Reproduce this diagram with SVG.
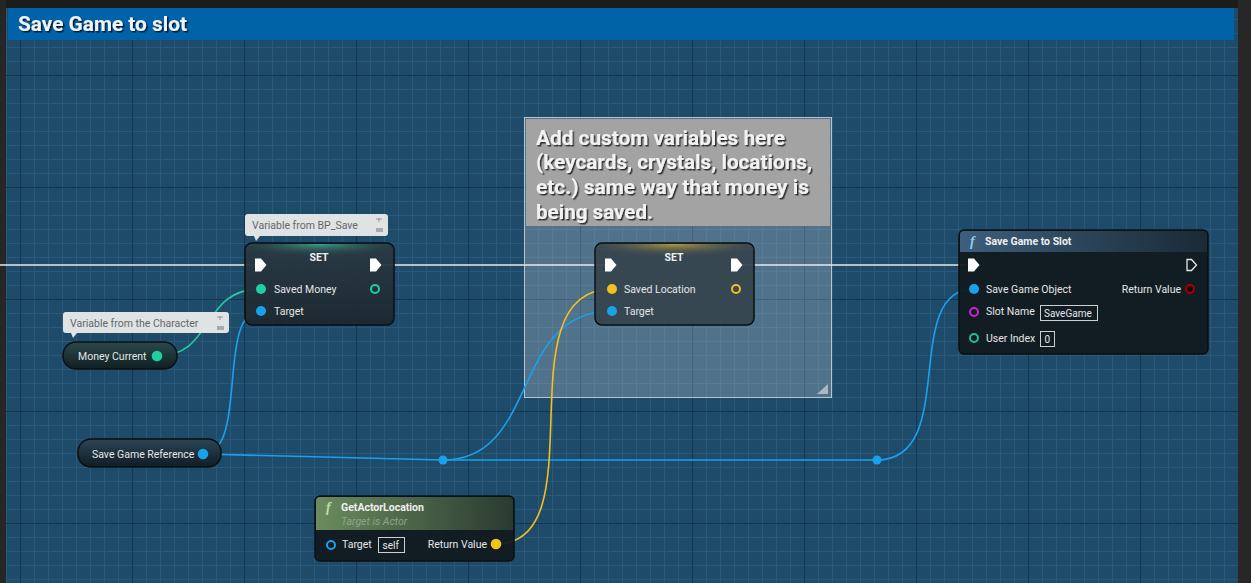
<svg xmlns="http://www.w3.org/2000/svg" width="1251" height="583" viewBox="0 0 1251 583">
<defs>
<pattern id="minor" x="6" y="5" width="14" height="14" patternUnits="userSpaceOnUse">
<path d="M0 0.5H14M0.5 0V14" stroke="#2b5878" stroke-width="1" fill="none"/>
</pattern>
<pattern id="major" x="20" y="75" width="112" height="112" patternUnits="userSpaceOnUse">
<path d="M0 0.5H112M0.5 0V112" stroke="#143650" stroke-width="1.2" fill="none"/>
</pattern>
<linearGradient id="bodyGrad" x1="0" y1="0" x2="0" y2="1">
<stop offset="0" stop-color="#2a3a44"/>
<stop offset="1" stop-color="#1c272e"/>
</linearGradient>
<radialGradient id="tealGlow" cx="0.5" cy="0" r="0.6">
<stop offset="0" stop-color="#3aa08a"/>
<stop offset="1" stop-color="#2a3a44" stop-opacity="0"/>
</radialGradient>
<radialGradient id="yellowGlow" cx="0.5" cy="0" r="0.6">
<stop offset="0" stop-color="#b59a3a"/>
<stop offset="1" stop-color="#3a4852" stop-opacity="0"/>
</radialGradient>
<linearGradient id="pillGrad" x1="0" y1="0" x2="0" y2="1">
<stop offset="0" stop-color="#2c4a4c"/>
<stop offset="1" stop-color="#0f1e22"/>
</linearGradient>
<linearGradient id="pillBlue" x1="0" y1="0" x2="0" y2="1">
<stop offset="0" stop-color="#2c4656"/>
<stop offset="1" stop-color="#0f1c24"/>
</linearGradient>
<linearGradient id="fnHead" x1="0" y1="0" x2="1" y2="0">
<stop offset="0" stop-color="#3d5f7c"/>
<stop offset="1" stop-color="#1a2a36"/>
</linearGradient>
<linearGradient id="greenHead" x1="0" y1="0" x2="1" y2="0">
<stop offset="0" stop-color="#6b8c5e"/>
<stop offset="1" stop-color="#2a3a30"/>
</linearGradient>
<filter id="shadow" x="-10%" y="-10%" width="130%" height="130%">
<feDropShadow dx="1.5" dy="1.5" stdDeviation="0.3" flood-color="#000" flood-opacity="0.7"/>
</filter>
</defs>
<style>
.t{font-family:Roboto,"Liberation Sans",sans-serif;font-size:10.5px;fill:#e6e6e6}
.bt{font-family:Roboto,"Liberation Sans",sans-serif;font-size:10px;fill:#e6e6e6}
.c{font-family:Roboto,"Liberation Sans",sans-serif;font-size:10.5px;fill:#666}
.h{font-family:Roboto,"Liberation Sans",sans-serif;font-size:10.5px;font-weight:bold;fill:#f0f0f0}
.big{font-family:Roboto,"Liberation Sans",sans-serif;font-weight:bold;fill:#f2f2f2}
.node{stroke:#0a0f12;stroke-width:1.5}
.exec{fill:#ffffff}
.wire{fill:none;stroke-width:1.6}
.box{fill:none;stroke:#cfcfcf;stroke-width:1}
.bubble{fill:#dfe3e4}
</style>
<!-- background -->
<rect width="1251" height="583" fill="#1c1c1c"/>
<rect x="6" y="8" width="1232" height="575" fill="#1f4b6a"/>
<rect x="6" y="8" width="1232" height="575" fill="url(#minor)"/>
<rect x="6" y="8" width="1232" height="575" fill="url(#major)"/>
<rect x="1238" y="0" width="13" height="583" fill="#272727"/>
<rect x="0" y="0" width="6" height="583" fill="#262626"/>
<g id="frame-header">
<rect x="8" y="8" width="1226" height="32" fill="#0063a8"/>
<text x="18" y="31" class="big" font-size="20" textLength="169" lengthAdjust="spacingAndGlyphs" filter="url(#shadow)">Save Game to slot</text>
</g>
<!-- comment box -->
<g id="comment-custom">
<rect x="524.5" y="117.5" width="307" height="280" fill="#ffffff" fill-opacity="0.22" stroke="#b9c4cc" stroke-width="1"/>
<rect x="526" y="119" width="304" height="107" fill="#a3a3a3"/>
<g class="big" font-size="21" filter="url(#shadow)">
<text x="536" y="145" textLength="249" lengthAdjust="spacingAndGlyphs">Add custom variables here</text>
<text x="536" y="169" textLength="276" lengthAdjust="spacingAndGlyphs">(keycards, crystals, locations,</text>
<text x="536" y="194" textLength="273" lengthAdjust="spacingAndGlyphs">etc.) same way that money is</text>
<text x="536" y="219" textLength="117" lengthAdjust="spacingAndGlyphs">being saved.</text>
</g>
<path d="M828 384L817 394H828Z" fill="#a9b8c4"/>
</g>
<!-- connectors -->
<g id="connectors">
<path class="wire" stroke="#e8e8e8" stroke-width="2" d="M0 265H255"/>
<path class="wire" stroke="#e8e8e8" stroke-width="2" d="M382 265H605"/>
<path class="wire" stroke="#e8e8e8" stroke-width="2" d="M742 265H967"/>
<path class="wire" stroke="#1fcf9e" d="M157 356C215 356 200 289 261 289"/>
<path class="wire" stroke="#18a2ec" d="M202 454C250 454 215 311 261 311"/>
<path class="wire" stroke="#18a2ec" d="M202 454L443 460H877"/>
<path class="wire" stroke="#18a2ec" d="M443 460C540 460 510 311 612 311"/>
<path class="wire" stroke="#18a2ec" d="M877 460C960 460 900 289 974 289"/>
<path class="wire" stroke="#f2c11d" d="M496 544C600 544 500 289 612 289"/>
<circle cx="443" cy="460" r="4.5" fill="#18a2ec"/>
<circle cx="877" cy="460" r="4.5" fill="#18a2ec"/>
</g>
<!-- comment bubble BP_Save -->
<g id="bubble-bpsave">
<rect x="245" y="214" width="143" height="22" rx="3" class="bubble"/>
<path d="M254 236L256 241L260 236Z" class="bubble"/>
<text x="252" y="229" class="c">Variable from BP_Save</text>
<path d="M376 219h6M379 218v4" stroke="#999" stroke-width="1"/>
<rect x="376" y="228" width="7" height="4" fill="#aaa"/>
</g>
<!-- SET 1 -->
<g id="set-money">
<rect x="245" y="243" width="149" height="82" rx="7" fill="url(#bodyGrad)" fill-opacity="0.95" class="node"/>
<rect x="246" y="244" width="147" height="22" rx="6" fill="url(#tealGlow)"/>
<text x="319" y="261" class="h" text-anchor="middle">SET</text>
<path class="exec" d="M255 258.5h6l5.5 6.5l-5.5 6.5h-6z"/>
<path class="exec" d="M370 258.5h6l5.5 6.5l-5.5 6.5h-6z"/>
<circle cx="261" cy="289" r="5" fill="#1fcf9e"/>
<text x="274" y="293" class="t">Saved Money</text>
<circle cx="375" cy="289" r="4" fill="none" stroke="#1fcf9e" stroke-width="2"/>
<circle cx="261" cy="311" r="5" fill="#18a2ec"/>
<text x="274" y="315" class="t">Target</text>
</g>
<!-- bubble character -->
<g id="bubble-character">
<rect x="63" y="312" width="166" height="21" rx="3" class="bubble"/>
<path d="M71 333L73 338L77 333Z" class="bubble"/>
<text x="70" y="327" class="c">Variable from the Character</text>
<path d="M217 317h6M220 316v4" stroke="#999" stroke-width="1"/>
<rect x="217" y="326" width="7" height="4" fill="#aaa"/>
</g>
<!-- Money Current -->
<g id="money-current">
<rect x="63" y="342" width="114" height="27" rx="13" fill="url(#pillGrad)" class="node"/>
<text x="78" y="360" class="t">Money Current</text>
<circle cx="157" cy="356" r="5.3" fill="#1fcf9e"/>
</g>
<!-- Save Game Reference -->
<g id="save-game-reference">
<rect x="78" y="439" width="143" height="28" rx="13" fill="url(#pillBlue)" class="node"/>
<text x="92" y="458" class="t">Save Game Reference</text>
<circle cx="203" cy="454" r="5.3" fill="#18a2ec"/>
</g>
<!-- SET 2 -->
<g id="set-location">
<rect x="595" y="243" width="159" height="82" rx="7" fill="#36454f" fill-opacity="0.95" class="node"/>
<rect x="596" y="244" width="157" height="22" rx="6" fill="url(#yellowGlow)"/>
<text x="674" y="261" class="h" text-anchor="middle">SET</text>
<path class="exec" d="M605 258.5h6l5.5 6.5l-5.5 6.5h-6z"/>
<path class="exec" d="M731 258.5h6l5.5 6.5l-5.5 6.5h-6z"/>
<circle cx="612" cy="289" r="5" fill="#f2c11d"/>
<text x="624" y="293" class="t">Saved Location</text>
<circle cx="736" cy="289" r="4" fill="none" stroke="#f2c11d" stroke-width="2"/>
<circle cx="612" cy="311" r="5" fill="#18a2ec"/>
<text x="624" y="315" class="t">Target</text>
</g>
<!-- Save Game to Slot -->
<g id="save-game-to-slot">
<rect x="959" y="230" width="249" height="124" rx="5" fill="#111a20" fill-opacity="0.95" class="node"/>
<path d="M960 235a4 4 0 0 1 4-4h239a4 4 0 0 1 4 4v17h-247z" fill="url(#fnHead)"/>
<text x="970" y="246" font-family="'Liberation Serif',serif" font-style="italic" font-weight="bold" font-size="14" fill="#8fc7ee">f</text>
<text x="985" y="245" class="h">Save Game to Slot</text>
<path class="exec" d="M968 258.5h6l5.5 6.5l-5.5 6.5h-6z"/>
<path d="M1187 259.5h4.5l5 5.5l-5 5.5h-4.5z" fill="none" stroke="#e8e8e8" stroke-width="1.3"/>
<circle cx="974" cy="289" r="5" fill="#18a2ec"/>
<text x="986" y="293" class="t">Save Game Object</text>
<text x="1181" y="293" class="t" text-anchor="end">Return Value</text>
<circle cx="1190" cy="289" r="4" fill="#1a0000" stroke="#a80000" stroke-width="2"/>
<circle cx="974" cy="312" r="4" fill="none" stroke="#d21fd0" stroke-width="2"/>
<text x="986" y="315" class="t">Slot Name</text>
<rect x="1040.5" y="305.5" width="57" height="15" class="box"/>
<text x="1044" y="317" class="bt">SaveGame</text>
<circle cx="974" cy="338" r="4" fill="none" stroke="#1fbf98" stroke-width="2"/>
<text x="986" y="342" class="t">User Index</text>
<rect x="1040.5" y="331.5" width="14" height="15" class="box"/>
<text x="1044.5" y="343" class="bt">0</text>
</g>
<!-- GetActorLocation -->
<g id="get-actor-location">
<rect x="315" y="496" width="199" height="65" rx="5" fill="#111a20" fill-opacity="0.95" class="node"/>
<path d="M316 501a4 4 0 0 1 4-4h189a4 4 0 0 1 4 4v29h-197z" fill="url(#greenHead)"/>
<text x="326" y="512" font-family="'Liberation Serif',serif" font-style="italic" font-weight="bold" font-size="14" fill="#b8e0a0">f</text>
<text x="341" y="511" class="h">GetActorLocation</text>
<text x="341" y="525" class="t" font-style="italic" style="fill:#8fa38a">Target is Actor</text>
<circle cx="331" cy="545" r="4" fill="none" stroke="#18a2ec" stroke-width="2"/>
<text x="342" y="548" class="t">Target</text>
<rect x="378.5" y="537.5" width="26" height="15" class="box"/>
<text x="382.5" y="549" class="bt">self</text>
<text x="487" y="548" class="t" text-anchor="end">Return Value</text>
<circle cx="496" cy="544" r="5.3" fill="#f2c11d"/>
</g>
</svg>
